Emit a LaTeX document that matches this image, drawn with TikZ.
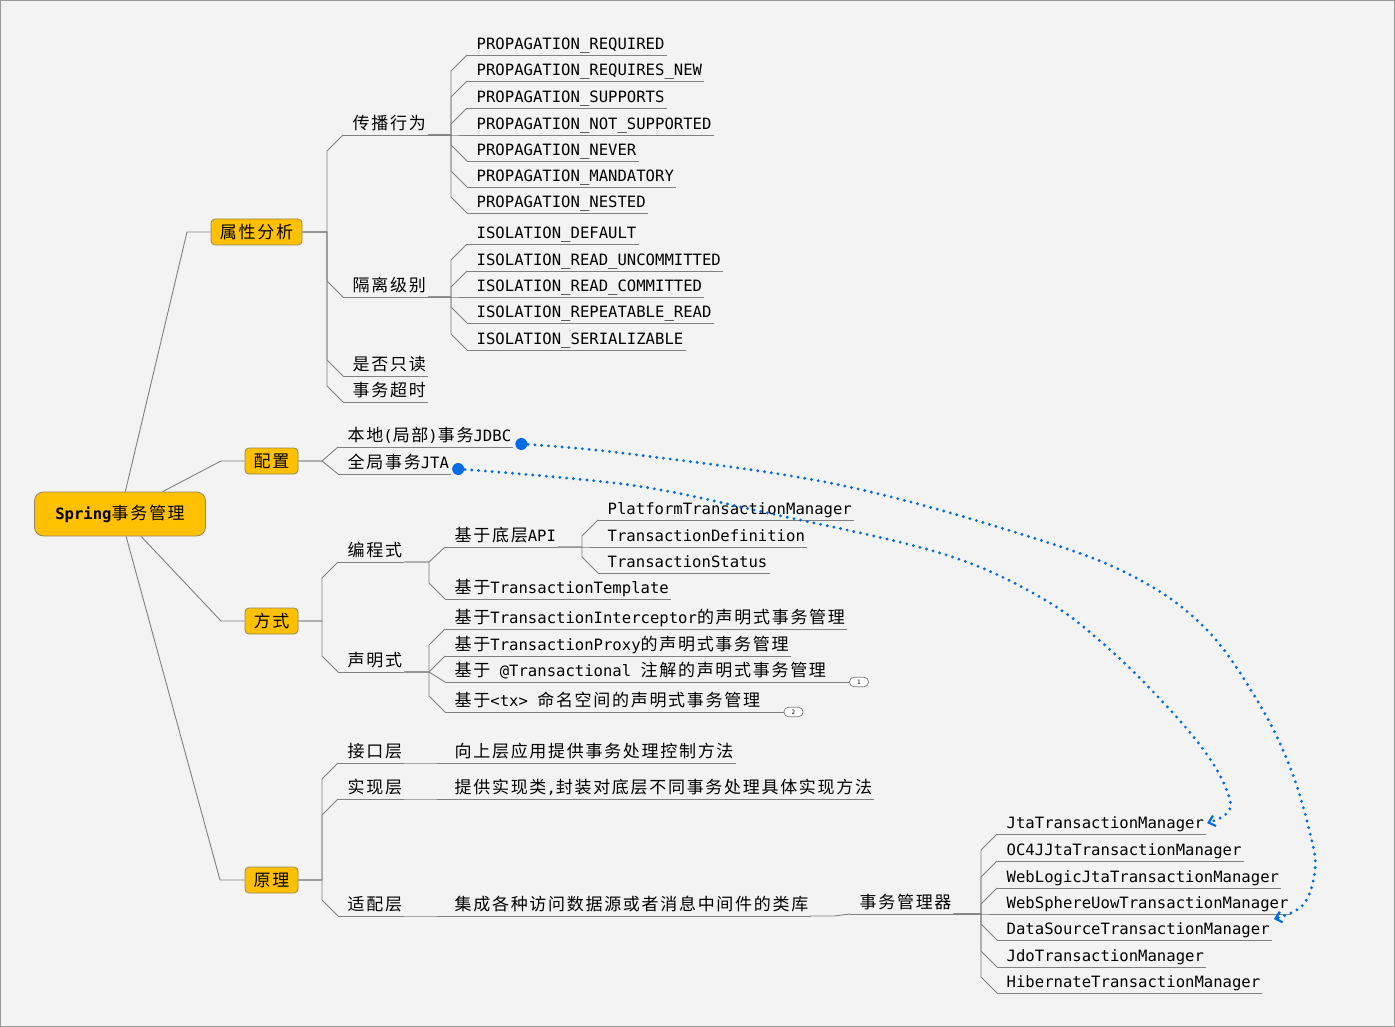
\documentclass[tikz,border=0pt]{standalone}
\usepackage{fontspec}
\setmainfont{Noto Sans CJK SC}[LetterSpace=10]
\newfontfamily\monof{DejaVu Sans Mono}
\usetikzlibrary{calc,arrows.meta}
\definecolor{bgc}{RGB}{243,243,243}
\definecolor{linec}{RGB}{128,128,128}
\definecolor{boxc}{RGB}{255,192,0}
\definecolor{boxd}{RGB}{150,135,100}
\definecolor{relc}{RGB}{0,108,230}
\newcommand\m[1]{{\monof\fontsize{15.6}{20}\selectfont #1}}
\tikzset{
  tl/.style={draw=linec, line width=0.9pt},
  tp/.style={anchor=south west, inner xsep=0pt, inner ysep=0pt, text depth=5pt,
    execute at begin node={\hspace*{9.5pt}}, execute at end node={\hspace*{2pt}},
    append after command={(\tikzlastnode.south west) edge[tl] (\tikzlastnode.south east)}},
  bx/.style={draw=boxd, fill=boxc, rounded corners=4pt, minimum height=26pt, inner xsep=0pt, line width=0.8pt},
  elbow/.style={to path={let \p1=(\tikztostart), \p2=(\tikztotarget),
     \n1={min(16,abs(\y2-\y1))*sign(\y1-\y2)} in
     -- ({\x2-16pt},\y1) -- ({\x2-16pt},{\y2+(\n1)*1pt}) -- (\tikztotarget)}},
  mk/.style={draw=linec, fill=white, rounded corners=4.5pt, minimum width=19pt, minimum height=9.5pt,
     inner sep=0pt, font=\monof\fontsize{6}{6}\selectfont, line width=0.7pt},
  dotn/.style={circle, fill=relc, minimum size=12pt, inner sep=0pt},
  rel/.style={draw=relc, line width=3.2pt, dash pattern=on 0pt off 6.8pt, line cap=round,
     -{Straight Barb[length=6pt,width=11pt,line width=2.2pt]}}
}
\begin{document}
\begin{tikzpicture}[x=1pt, y=-1pt, font=\fontsize{17}{20}\selectfont]
\useasboundingbox (0,0) rectangle (1395,1027);
\fill[bgc] (0,0) rectangle (1395,1027);
\draw[gray!80, line width=1pt] (0.5,0.5) rectangle (1394.5,1026.5);

% main boxes
\node[bx, rounded corners=9pt, minimum width=171pt, minimum height=44pt] (root) at (120,514) {{\bfseries\m{Spring}}事务管理};
\node[bx, minimum width=91pt] (attr) at (256.5,232) {属性分析};
\node[bx, minimum width=53pt] (conf) at (271.5,461) {配置};
\node[bx, minimum width=53pt] (way) at (271.5,621) {方式};
\node[bx, minimum width=53pt] (prin) at (271.5,880) {原理};

% attr branch
\node[tp] (cb) at (343,135) {传播行为};
\node[tp] (gl) at (343,297) {隔离级别};
\node[tp] (ro) at (343,376) {是否只读};
\node[tp] (tmo) at (343,402) {事务超时};

\node[tp] (p1) at (467,55) {\m{PROPAGATION\_REQUIRED}};
\node[tp] (p2) at (467,81) {\m{PROPAGATION\_REQUIRES\_NEW}};
\node[tp] (p3) at (467,108) {\m{PROPAGATION\_SUPPORTS}};
\node[tp] (p4) at (467,135) {\m{PROPAGATION\_NOT\_SUPPORTED}};
\node[tp] (p5) at (467,161) {\m{PROPAGATION\_NEVER}};
\node[tp] (p6) at (467,187) {\m{PROPAGATION\_MANDATORY}};
\node[tp] (p7) at (467,213) {\m{PROPAGATION\_NESTED}};

\node[tp] (i1) at (467,244) {\m{ISOLATION\_DEFAULT}};
\node[tp] (i2) at (467,271) {\m{ISOLATION\_READ\_UNCOMMITTED}};
\node[tp] (i3) at (467,297) {\m{ISOLATION\_READ\_COMMITTED}};
\node[tp] (i4) at (467,323) {\m{ISOLATION\_REPEATABLE\_READ}};
\node[tp] (i5) at (467,350) {\m{ISOLATION\_SERIALIZABLE}};

% conf branch
\node[tp] (jdbc) at (338,447) {本地\m{(}局部\m{)}事务\m{JDBC}};
\node[tp] (jta) at (338,474) {全局事务\m{JTA}};

% way branch
\node[tp] (bc) at (338,562) {编程式};
\node[tp] (sm) at (338,672) {声明式};
\node[tp] (api) at (445,547) {基于底层\m{API}};
\node[tp] (tpl) at (445,599) {基于\m{TransactionTemplate}};
\node[tp] (ptm) at (598,520) {\m{PlatformTransactionManager}};
\node[tp] (tdf) at (598,547) {\m{TransactionDefinition}};
\node[tp] (tst) at (598,573) {\m{TransactionStatus}};
\node[tp] (s1) at (445,629) {基于\m{TransactionInterceptor}的声明式事务管理};
\node[tp] (s2) at (445,656) {基于\m{TransactionProxy}的声明式事务管理};
\node[tp] (s3) at (445,682) {基于\m{\ @Transactional\ }注解的声明式事务管理};
\node[tp] (s4) at (445,712) {基于\m{<tx>\ }命名空间的声明式事务管理};
\node[mk] (m1) at (859,682) {1};
\node[mk] (m2) at (793.5,712) {2};

% prin branch
\node[tp] (jk) at (338,763) {接口层};
\node[tp] (sx) at (338,799) {实现层};
\node[tp] (sp) at (338,916) {适配层};
\node[tp] (jkd) at (445,763) {向上层应用提供事务处理控制方法};
\node[tp] (sxd) at (445,799) {提供实现类\m{,}封装对底层不同事务处理具体实现方法};
\node[tp] (spd) at (445,916) {集成各种访问数据源或者消息中间件的类库};
\node[tp] (tm) at (850,914) {事务管理器};
\node[tp] (t1) at (997,834) {\m{JtaTransactionManager}};
\node[tp] (t2) at (997,861) {\m{OC4JJtaTransactionManager}};
\node[tp] (t3) at (997,888) {\m{WebLogicJtaTransactionManager}};
\node[tp] (t4) at (997,914) {\m{WebSphereUowTransactionManager}};
\node[tp] (t5) at (997,940) {\m{DataSourceTransactionManager}};
\node[tp] (t6) at (997,967) {\m{JdoTransactionManager}};
\node[tp] (t7) at (997,993) {\m{HibernateTransactionManager}};

% connectors from root
\draw[tl] (root) -- (187,232) -- (attr.west);
\draw[tl] (root) -- (221,461) -- (conf.west);
\draw[tl] (root) -- (221,621) -- (way.west);
\draw[tl] (root) -- (220,880) -- (prin.west);

% tree connectors
\foreach \c in {cb,gl,ro,tmo} \draw[tl] (attr.east) to[elbow] (\c.south west);
\foreach \c in {p1,p2,p3,p4,p5,p6,p7} \draw[tl] (cb.south east) to[elbow] (\c.south west);
\foreach \c in {i1,i2,i3,i4,i5} \draw[tl] (gl.south east) to[elbow] (\c.south west);
\foreach \c in {jdbc,jta} \draw[tl] (conf.east) to[elbow] (\c.south west);
\foreach \c in {bc,sm} \draw[tl] (way.east) to[elbow] (\c.south west);
\foreach \c in {api,tpl} \draw[tl] (bc.south east) to[elbow] (\c.south west);
\foreach \c in {ptm,tdf,tst} \draw[tl] (api.south east) to[elbow] (\c.south west);
\foreach \c in {s1,s2,s3,s4} \draw[tl] (sm.south east) to[elbow] (\c.south west);
\draw[tl] (s3.south east) -- (m1.west);
\draw[tl] (s4.south east) -- (m2.west);
\foreach \c in {jk,sx,sp} \draw[tl] (prin.east) to[elbow] (\c.south west);
\draw[tl] (jk.south east) to[elbow] (jkd.south west);
\draw[tl] (sx.south east) to[elbow] (sxd.south west);
\draw[tl] (sp.south east) to[elbow] (spd.south west);
\draw[tl] (spd.south east) to[elbow] (tm.south west);
\foreach \c in {t1,t2,t3,t4,t5,t6,t7} \draw[tl] (tm.south east) to[elbow] (\c.south west);

% relationships
\node[dotn] (d1) at ([xshift=8pt,yshift=3pt]jdbc.south east) {};
\node[dotn] (d2) at ([xshift=7pt,yshift=5pt]jta.south east) {};
\coordinate (e1) at ([xshift=2pt,yshift=21pt]t5.south east);
\coordinate (e2) at ([xshift=1pt,yshift=11pt]t1.south east);
\draw[rel] plot[smooth, tension=0.6] coordinates {(d1) (630,454) (840,485) (1040,540) (1140,580) (1207,630) (1257,700) (1290,767) (1310,833) (1315,870) (1303,905) (e1)};
\draw[rel] plot[smooth, tension=0.6] coordinates {(d2) (630,485) (763,512) (940,553) (1040,597) (1107,647) (1173,713) (1212,762) (1230,800) (1225,815) (e2)};
\end{tikzpicture}
\end{document}
